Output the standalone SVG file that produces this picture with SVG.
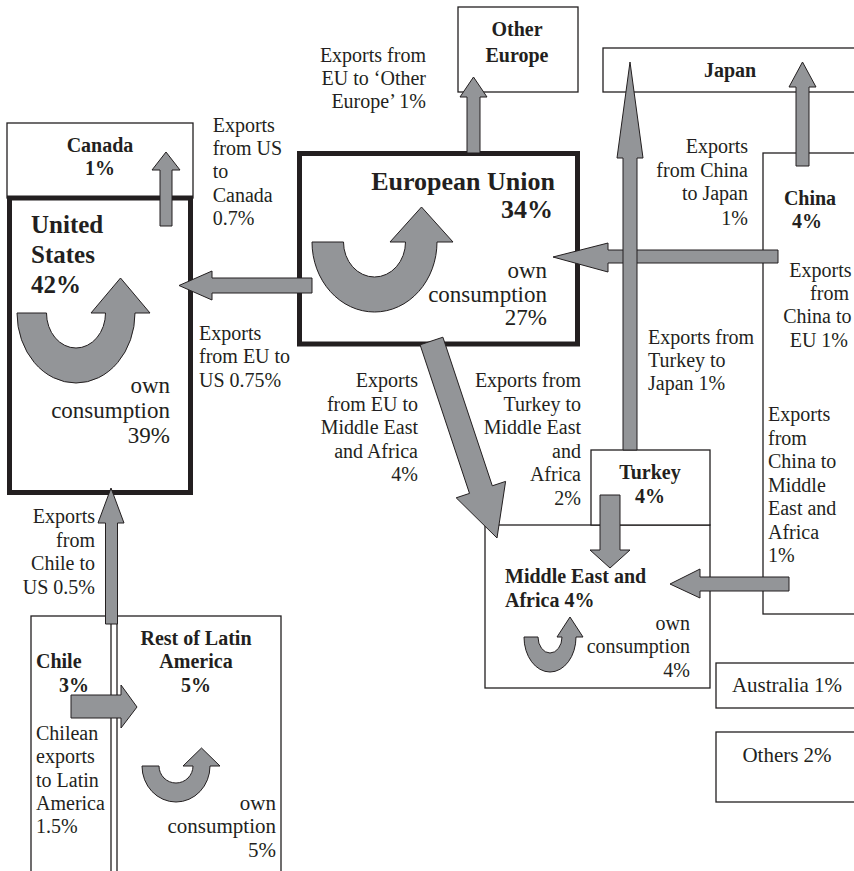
<svg xmlns="http://www.w3.org/2000/svg" width="854" height="871" viewBox="0 0 854 871">
<style>
text{font-family:"Liberation Serif","Times New Roman",serif;fill:#231f20;font-size:20px}
.b{font-weight:bold}
.t{font-size:25px;font-weight:bold}
.oc{font-size:23px}
.e{text-anchor:end}
.m{text-anchor:middle}
.box{fill:#fff;stroke:#231f20;stroke-width:1.3}
.thick{fill:#fff;stroke:#231f20;stroke-width:5}
.arr{fill:#939598;stroke:#231f20;stroke-width:1}
</style>
<rect width="854" height="871" fill="#fff"/>
<g id="canada">
<rect class="box" x="7" y="123" width="186" height="75"/>
<text class="b m" x="100" y="152">Canada</text>
<text class="b m" x="100" y="175">1%</text>
</g>
<g id="united-states">
<rect class="thick" x="9.5" y="198" width="181" height="294.5"/>
<text class="t" x="31" y="233">United</text>
<text class="t" x="31" y="263">States</text>
<text class="t" x="31" y="293">42%</text>
<text class="oc e" x="170" y="393">own</text>
<text class="oc e" x="170" y="418">consumption</text>
<text class="oc e" x="170" y="443">39%</text>
</g>
<g id="european-union">
<rect class="thick" x="299.5" y="153.5" width="278" height="190.5"/>
<text class="t e" x="555" y="190" style="font-size:26px">European Union</text>
<text class="t e" x="553" y="218" style="font-size:26px">34%</text>
<text class="oc e" x="547" y="278">own</text>
<text class="oc e" x="547" y="302">consumption</text>
<text class="oc e" x="547" y="325">27%</text>
</g>
<g id="other-europe">
<rect class="box" x="458" y="7" width="120" height="85"/>
<text class="b m" x="517" y="36">Other</text>
<text class="b m" x="517" y="62">Europe</text>
</g>
<g id="japan">
<rect class="box" x="603" y="48" width="270" height="44"/>
<text class="b m" x="730" y="77">Japan</text>
</g>
<g id="china">
<rect class="box" x="763" y="153" width="110" height="461"/>
<text class="b m" x="810" y="205">China</text>
<text class="b m" x="807" y="228">4%</text>
</g>
<g id="middle-east-africa">
<rect class="box" x="485" y="525" width="225" height="163"/>
<text class="b" x="505" y="583">Middle East and</text>
<text class="b" x="505" y="607">Africa 4%</text>
<text class="e" x="690" y="630">own</text>
<text class="e" x="690" y="653">consumption</text>
<text class="e" x="690" y="677">4%</text>
</g>
<g id="turkey">
<rect class="box" x="591" y="450" width="119" height="75"/>
<text class="b m" x="650" y="479">Turkey</text>
<text class="b m" x="650" y="503">4%</text>
</g>
<g id="australia">
<rect class="box" x="716" y="663" width="160" height="45"/>
<text class="m" x="787" y="692" style="font-size:21px">Australia 1%</text>
</g>
<g id="others">
<rect class="box" x="716" y="732" width="160" height="70"/>
<text class="m" x="787" y="762" style="font-size:21px">Others 2%</text>
</g>
<g id="chile">
<rect class="box" x="31" y="616" width="80" height="270"/>
<text class="b" x="36" y="668">Chile</text>
<text class="b" x="59" y="692">3%</text>
</g>
<g id="rest-of-latin-america">
<rect class="box" x="117" y="616" width="164" height="270"/>
<text class="b m" x="196" y="645">Rest of Latin</text>
<text class="b m" x="196" y="668">America</text>
<text class="b m" x="196" y="692">5%</text>
<text class="e" x="276" y="810" style="font-size:21px">own</text>
<text class="e" x="276" y="833" style="font-size:21px">consumption</text>
<text class="e" x="276" y="857" style="font-size:21px">5%</text>
</g>
<g id="connectors">
<path class="arr" d="M17 313A59 70 0 0 0 135 313L150 313L120.5 278L91 313L105.5 313A29.5 35 0 0 1 46.5 313Z"/>
<path class="arr" d="M312 242A62.5 70 0 0 0 437 242L453 242L421.5 207L390 242L405.5 242A31 35 0 0 1 343.5 242Z"/>
<path class="arr" d="M142 766A34 36 0 0 0 210 766L220 766L201.5 748L183 766L193 766A17 17 0 0 1 159 766Z"/>
<path class="arr" d="M524 637A26 35 0 0 0 576 637L583 637L570 617L557 637L562 637A12 16 0 0 1 538 637Z"/>
<polygon class="arr" points="160,226 172,226 172,170 180,170 166,152 152,170 160,170"/>
<polygon class="arr" points="467,153 480,153 480,97 487,97 473.5,77 460,97 467,97"/>
<polygon class="arr" points="312,278 312,293 212,293 212,300 179,285.5 212,271 212,278"/>
<polygon class="arr" points="778,250 778,263 608,263 608,272 553,257 608,243 608,250"/>
<polygon class="arr" points="623,450 637,450 637,158 643,158 630,62 617,158 623,158"/>
<polygon class="arr" points="796,166 809,166 809,87 816,87 802.5,62 789,87 796,87"/>
<polygon class="arr" points="442.9,337.2 492.3,485.8 505.6,481.4 497,538 456.2,497.8 469.5,493.4 420.1,344.8"/>
<polygon class="arr" points="600,495 620,495 620,550 630,550 610,568 590,550 600,550"/>
<polygon class="arr" points="789,577 789,591 700,591 700,598 670,584 700,569 700,577"/>
<polygon class="arr" points="105.5,624 117.5,624 117.5,523 124,523 111,488 98,523 105.5,523"/>
<polygon class="arr" points="71,695 121,695 121,685 137,707 121,728 121,718 71,718"/>
<text x="212.7" y="132">Exports</text>
<text x="212.7" y="155">from US</text>
<text x="212.7" y="178">to</text>
<text x="212.7" y="202">Canada</text>
<text x="212.7" y="225">0.7%</text>
<text class="e" x="426" y="62">Exports from</text>
<text class="e" x="426" y="85">EU to ‘Other</text>
<text class="e" x="426" y="108">Europe’ 1%</text>
<text x="199" y="340">Exports</text>
<text x="199" y="363">from EU to</text>
<text x="199" y="387">US 0.75%</text>
<text class="e" x="418" y="387">Exports</text>
<text class="e" x="418" y="410.5">from EU to</text>
<text class="e" x="418" y="434">Middle East</text>
<text class="e" x="418" y="457.5">and Africa</text>
<text class="e" x="418" y="481">4%</text>
<text class="e" x="581" y="387">Exports from</text>
<text class="e" x="581" y="410.5">Turkey to</text>
<text class="e" x="581" y="434">Middle East</text>
<text class="e" x="581" y="457.5">and</text>
<text class="e" x="581" y="481">Africa</text>
<text class="e" x="581" y="504.5">2%</text>
<text x="648" y="344">Exports from</text>
<text x="648" y="367">Turkey to</text>
<text x="648" y="390">Japan 1%</text>
<text class="e" x="748" y="153">Exports</text>
<text class="e" x="748" y="177">from China</text>
<text class="e" x="748" y="200">to Japan</text>
<text class="e" x="748" y="225">1%</text>
<text class="e" x="851.5" y="277">Exports</text>
<text class="e" x="849" y="300">from</text>
<text class="e" x="851.5" y="323">China to</text>
<text class="e" x="848" y="347">EU 1%</text>
<text x="768" y="421">Exports</text>
<text x="768" y="444.5">from</text>
<text x="768" y="468">China to</text>
<text x="768" y="491.5">Middle</text>
<text x="768" y="515">East and</text>
<text x="768" y="538.5">Africa</text>
<text x="768" y="562">1%</text>
<text class="e" x="95" y="523">Exports</text>
<text class="e" x="95" y="546.5">from</text>
<text class="e" x="95" y="570">Chile to</text>
<text class="e" x="95" y="593.5">US 0.5%</text>
<text x="36" y="740">Chilean</text>
<text x="36" y="763">exports</text>
<text x="36" y="787">to Latin</text>
<text x="36" y="810">America</text>
<text x="36" y="833">1.5%</text>
</g>
</svg>
